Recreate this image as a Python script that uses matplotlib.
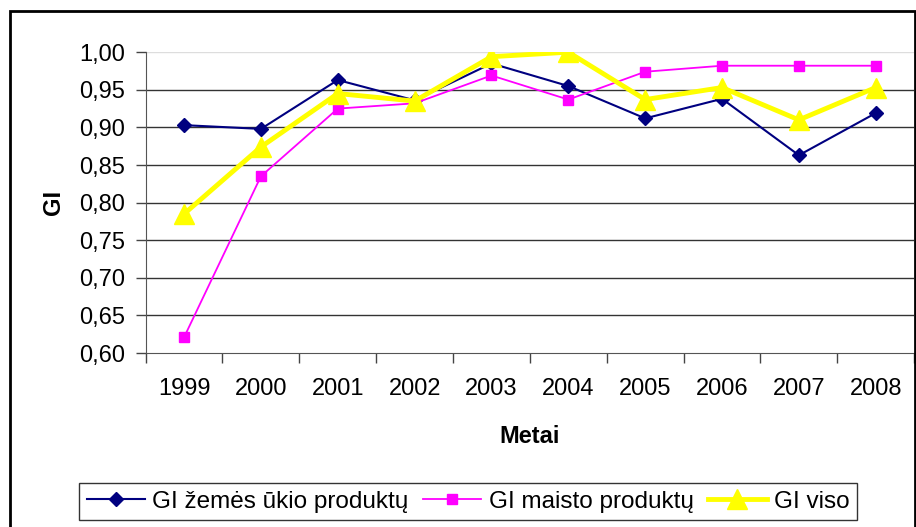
import matplotlib
matplotlib.use("Agg")
import matplotlib.pyplot as plt
from matplotlib.patches import Rectangle
from matplotlib.ticker import FixedLocator, FuncFormatter

plt.rcParams['font.family'] = ['Liberation Sans', 'DejaVu Sans']

years = ["1999", "2000", "2001", "2002", "2003", "2004", "2005", "2006", "2007", "2008"]
gi_ukio = [0.903, 0.898, 0.963, 0.936, 0.985, 0.955, 0.912, 0.938, 0.863, 0.919]
gi_maisto = [0.621, 0.835, 0.925, 0.932, 0.969, 0.937, 0.974, 0.982, 0.982, 0.982]
gi_viso = [0.785, 0.874, 0.945, 0.935, 0.994, 1.000, 0.937, 0.953, 0.910, 0.953]
yticks = [0.60, 0.65, 0.70, 0.75, 0.80, 0.85, 0.90, 0.95, 1.00]

fig = plt.figure(figsize=(9.16, 5.27), dpi=100)
ax = fig.add_axes([0.159, 0.330, 0.839, 0.571])

x = list(range(len(years)))
ax.plot(x, gi_ukio, color="#000080", lw=1.5, marker="D", ms=7, label="GI žemės ūkio produktų", zorder=3)
ax.plot(x, gi_maisto, color="#ff00ff", lw=1.3, marker="s", ms=7, label="GI maisto produktų", zorder=4)
ax.plot(x, gi_viso, color="#ffff00", lw=3.5, marker="^", ms=15, label="GI viso", zorder=5)

ax.set_xlim(-0.5, len(years) - 0.5)
ax.set_ylim(0.60, 1.00)
ax.set_yticks(yticks)
ax.yaxis.set_major_formatter(FuncFormatter(lambda v, p: ("%.2f" % v).replace(".", ",")))
ax.set_xticks(x)
ax.set_xticklabels(years)
ax.xaxis.set_minor_locator(FixedLocator([i - 0.5 for i in range(len(years) + 1)]))
ax.tick_params(axis="x", which="major", length=0, pad=18, labelsize=17)
ax.tick_params(axis="x", which="minor", length=7, width=1, color="#444444")
ax.tick_params(axis="y", length=7, width=1, color="#444444", labelsize=17, pad=8)

for v in yticks[1:-1]:
    ax.axhline(v, color="#333333", lw=1, zorder=1)
ax.axhline(1.0, color="#dddddd", lw=1, zorder=1)

for s in ["top", "right"]:
    ax.spines[s].set_visible(False)
ax.spines["left"].set_color("#555555")
ax.spines["bottom"].set_color("#555555")

ax.set_ylabel("GI", fontsize=17, fontweight="bold", labelpad=10)
ax.set_xlabel("Metai", fontsize=17, fontweight="bold", labelpad=18)

leg = fig.legend(loc="center", bbox_to_anchor=(0.511, 0.048), ncol=3, fontsize=17.5,
                 frameon=True, fancybox=False, edgecolor="black", handlelength=2.4,
                 handletextpad=0.3, columnspacing=0.6, borderpad=0.3)
leg.get_frame().set_linewidth(1)

fig.patches.append(Rectangle((10 / 916, -0.01), 905 / 916, 1 - 11 / 527 + 0.01,
                             transform=fig.transFigure, fill=False, edgecolor="black", lw=2))

fig.savefig("out.png", dpi=100)
